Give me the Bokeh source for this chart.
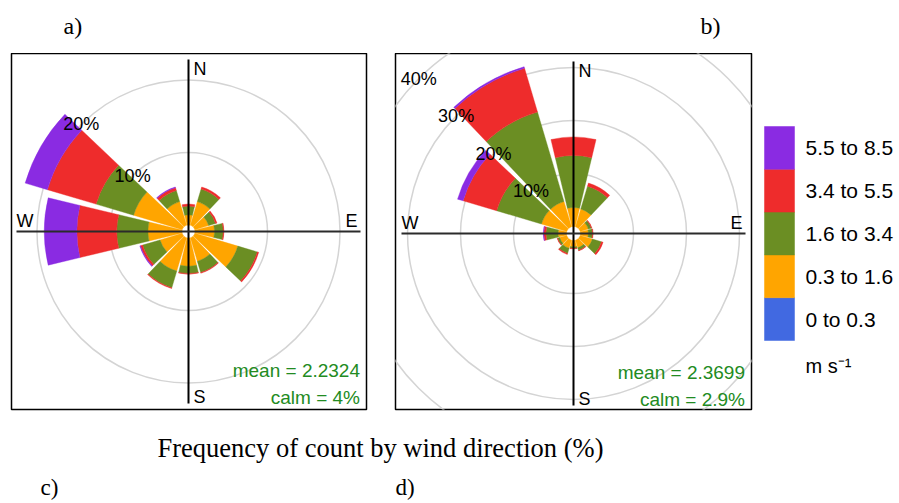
import numpy as np
from bokeh.plotting import figure
from bokeh.layouts import column, row
from bokeh.models import Range1d, Label, ColumnDataSource
from bokeh.core.properties import value
from bokeh.embed import file_html
from bokeh.resources import INLINE

# ---------------- data ----------------
directions = [0, 30, 60, 90, 120, 150, 180, 210, 240, 270, 300, 330]
speed_bins = ["0 to 0.3", "0.3 to 1.6", "1.6 to 3.4", "3.4 to 5.5", "5.5 to 8.5"]
bin_colors = ["#4169E1", "#FFA500", "#6B8E23", "#EE2C2C", "#8A2BE2"]
speed_unit = "m s\u207b\u00b9"

# panel a: frequency (%) per direction for each speed bin
a_0_03 = [0, 0, 0, 0, 0, 0, 0, 0, 0, 0, 0, 0]
a_03_16 = [1.4, 3.4, 2.0, 2.7, 6.2, 3.4, 3.9, 4.8, 3.2, 4.7, 7.0, 3.4]
a_16_34 = [1.2, 1.8, 1.0, 1.2, 2.8, 1.6, 1.0, 2.4, 2.5, 4.3, 5.4, 1.6]
a_34_55 = [0.3, 0.3, 0.2, 0.1, 0.2, 0.1, 0.1, 0.1, 0.3, 5.5, 7.0, 0.4]
a_55_85 = [0, 0, 0, 0, 0, 0, 0, 0, 0.1, 4.5, 3.2, 0.1]
a_rings = [10, 20]
a_stats = ["mean = 2.2324", "calm = 4%"]

# panel b
b_0_03 = [0, 0, 0, 0, 0, 0, 0, 0, 0, 0, 0, 0]
b_03_16 = [3.6, 3.5, 1.6, 1.5, 2.4, 1.5, 1.2, 1.6, 1.4, 1.6, 5.0, 5.0]
b_16_34 = [9.8, 4.5, 0.6, 0.8, 1.8, 0.5, 0.3, 1.0, 0.4, 2.3, 8.8, 17.6]
b_34_55 = [3.5, 0.6, 0.1, 0.1, 0.3, 0.1, 0.1, 0.2, 0.1, 0.4, 6.6, 8.6]
b_55_85 = [0, 0, 0, 0, 0, 0, 0, 0, 0, 0.1, 1.1, 0.3]
b_rings = [10, 20, 30, 40]
b_stats = ["mean = 2.3699", "calm = 2.9%"]

panel_tags = ["a)", "b)", "c)", "d)"]
caption = "Frequency of count by wind direction (%)"
compass = ["N", "E", "S", "W"]

# ---------------- styling ----------------
SANS = "Liberation Sans"
SERIF = "Liberation Serif"
HALF = 13.5          # half angular width of a petal (deg)
GREEN_TXT = "#228B22"
ROW_FRAME_H = 356


def bare(p):
    p.grid.visible = False
    p.background_fill_color = "white"
    p.border_fill_color = "white"
    return p


def rose(bins, rings, stats, ppp, off, fw, cx, cy, lft, rgt):
    fh = ROW_FRAME_H
    p = figure(frame_width=fw, frame_height=fh,
               min_border_left=lft, min_border_right=rgt,
               min_border_top=0, min_border_bottom=11,
               x_range=Range1d(-cx / ppp, (fw - cx) / ppp),
               y_range=Range1d(-(fh - cy) / ppp, cy / ppp),
               x_axis_location=None, y_axis_location=None,
               toolbar_location=None, tools="", title=None,
               output_backend="svg")
    bare(p)
    p.outline_line_color = "black"
    p.outline_line_width = 1.5

    # grid rings
    p.circle(x=[0] * len(rings), y=[0] * len(rings),
             radius=[r + off for r in rings],
             fill_color=None, line_color="#d4d4d4", line_width=1.5)

    # petals (stacked speed bins)
    cum = np.zeros(len(directions))
    data = dict(inner=[], outer=[], start=[], end=[], color=[])
    for vals, col in zip(bins, bin_colors):
        vals = np.asarray(vals, dtype=float)
        for d, c0, v in zip(directions, cum, vals):
            if v > 0:
                a = np.deg2rad(90 - d)
                data["inner"].append(off + c0)
                data["outer"].append(off + c0 + v)
                data["start"].append(a - np.deg2rad(HALF))
                data["end"].append(a + np.deg2rad(HALF))
                data["color"].append(col)
        cum = cum + vals
    p.annular_wedge(x=0, y=0, inner_radius="inner", outer_radius="outer",
                    start_angle="start", end_angle="end",
                    fill_color="color", line_color="color", line_width=0.4,
                    source=ColumnDataSource(data))

    # ring labels along the NW direction
    for r in rings:
        rr = r + off
        p.add_layout(Label(x=-rr * np.cos(np.pi / 4), y=rr * np.sin(np.pi / 4),
                           text=f"{r}%", text_font=SANS, text_font_size="18px",
                           text_color="black", text_align="center",
                           text_baseline="middle"))

    # axis cross
    L = 172 / ppp
    p.segment(x0=[0, -L], y0=[-L, 0], x1=[0, L], y1=[L, 0],
              line_color=["black", "#2b2b2b"], line_width=2)

    # compass letters (offsets in px from the centre)
    pos = {"N": (5, 162.5, "left"), "E": (169, 10.5, "right"),
           "S": (5, -165.5, "left"), "W": (-172, 10.5, "left")}
    for c in compass:
        dx, dy, al = pos[c]
        p.add_layout(Label(x=dx / ppp, y=dy / ppp, text=c, text_font=SANS,
                           text_font_size="18px", text_color="black",
                           text_align=al, text_baseline="middle"))

    # statistics
    for s, dy in zip(stats, [-139, -166]):
        p.add_layout(Label(x=171.5 / ppp, y=dy / ppp, text=s, text_font=SANS,
                           text_font_size="19px", text_color=GREEN_TXT,
                           text_align="right", text_baseline="middle"))
    return p


pa = rose([a_0_03, a_03_16, a_16_34, a_34_55, a_55_85], a_rings, a_stats,
          ppp=7.25, off=0.9, fw=355, cx=177, cy=178, lft=11, rgt=14)
pb = rose([b_0_03, b_03_16, b_16_34, b_34_55, b_55_85], b_rings, b_stats,
          ppp=5.3, off=1.32, fw=356, cx=178, cy=180, lft=15, rgt=7)

# ---------------- legend ----------------
BLK = 42.8  # px per legend block
leg = figure(frame_width=141, frame_height=ROW_FRAME_H,
             min_border_left=0, min_border_right=0,
             min_border_top=0, min_border_bottom=11,
             x_range=Range1d(-6 / 30, 135 / 30),
             y_range=Range1d(-69 / BLK, 287 / BLK),
             x_axis_location=None, y_axis_location=None,
             toolbar_location=None, tools="", title=None, output_backend="svg")
bare(leg)
leg.outline_line_color = None
idx = np.arange(len(speed_bins))
leg.rect(x=0.5, y=idx + 0.5, width=1, height=1, fill_color=bin_colors,
         line_color=bin_colors, line_width=0.5)
leg.text(x=41 / 30, y=idx + 0.5, text=speed_bins, text_font=value(SANS),
         text_font_size="21px", text_color="black",
         text_align="left", text_baseline="middle")
leg.add_layout(Label(x=41 / 30, y=-25 / BLK, text=speed_unit, text_font=SANS,
                     text_font_size="20px", text_color="black",
                     text_align="left", text_baseline="middle"))

# ---------------- top strip (panel tags a, b) ----------------
top = figure(frame_width=899, frame_height=53, min_border=0,
             x_range=Range1d(0, 899), y_range=Range1d(53, 0),
             x_axis_location=None, y_axis_location=None,
             toolbar_location=None, tools="", title=None, output_backend="svg")
bare(top)
top.outline_line_color = None
for t, xx in zip(panel_tags[:2], [63, 700]):
    top.add_layout(Label(x=xx, y=25, text=t, text_font=SERIF,
                         text_font_size="24px", text_color="black",
                         text_align="left", text_baseline="middle"))

# ---------------- caption strip ----------------
bot = figure(frame_width=899, frame_height=83, min_border=0,
             x_range=Range1d(0, 899), y_range=Range1d(503, 420),
             x_axis_location=None, y_axis_location=None,
             toolbar_location=None, tools="", title=None, output_backend="svg")
bare(bot)
bot.outline_line_color = None
bot.add_layout(Label(x=157, y=447, text=caption, text_font=SERIF,
                     text_font_size="26.5px", text_color="black",
                     text_align="left", text_baseline="middle"))
for t, xx in zip(panel_tags[2:], [40, 395]):
    bot.add_layout(Label(x=xx, y=487, text=t, text_font=SERIF,
                         text_font_size="23px", text_color="black",
                         text_align="left", text_baseline="middle"))

layout = column(top, row(pa, pb, leg), bot)
open("out.html", "w").write(file_html(layout, INLINE))
